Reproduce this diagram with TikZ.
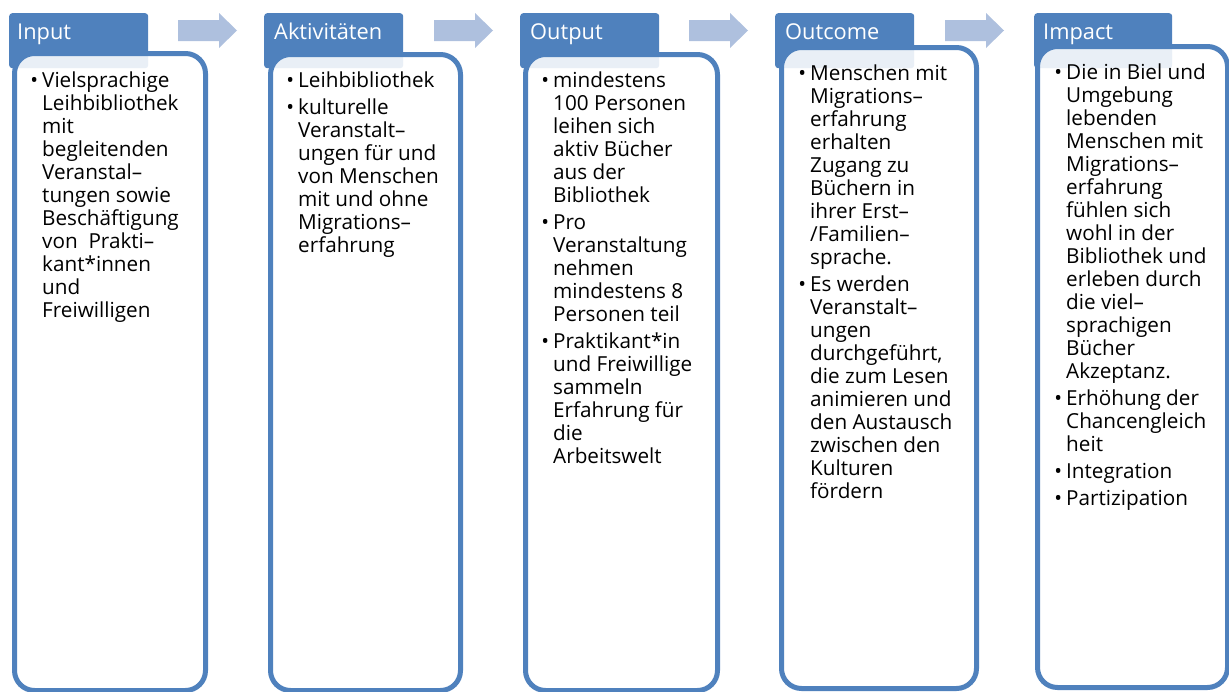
\documentclass[tikz,border=0pt]{standalone}
\usepackage{fontspec}
\setmainfont{Open Sans}
\definecolor{accent}{HTML}{4F81BD}
\definecolor{arrowc}{HTML}{AEC0DE}
\newcommand\bodyfont{\fontsize{20.7}{23}\selectfont}
\newcommand\hdrfont{\fontsize{21.8}{24}\selectfont}
\newcommand\itm{\par\noindent\llap{\textbullet\hspace{4pt}}}
\newcommand\col[1]{\parbox[t]{220pt}{\bodyfont\raggedright\setlength\parskip{4pt}#1}}
\begin{document}
\begin{tikzpicture}[x=1pt,y=-1pt,
  tabbox/.style={anchor=north west, inner sep=0, minimum height=55, fill=accent, rounded corners=3},
  panel/.style={anchor=north west, inner sep=0, draw=accent, line width=5, fill=white, fill opacity=0.88, rounded corners=20},
  hdr/.style={anchor=base west, inner sep=0, text=white, font=\hdrfont},
  body/.style={anchor=base west, inner sep=0},
  blockarrow/.style={fill=arrowc}]
\useasboundingbox (0,0) rectangle (1229,691);

% tabs
\node[tabbox, minimum width=139] (tabA) at (9,13) {};
\node[tabbox, minimum width=139] (tabB) at (264,13) {};
\node[tabbox, minimum width=139] (tabC) at (520,13) {};
\node[tabbox, minimum width=139] (tabD) at (775,13) {};
\node[tabbox, minimum width=138] (tabE) at (1034,13) {};

% panels
\node[panel, minimum width=191, minimum height=637] (boxA) at (12,51) {};
\node[panel, minimum width=190, minimum height=636] (boxB) at (268,52) {};
\node[panel, minimum width=192, minimum height=636] (boxC) at (523,52) {};
\node[panel, minimum width=195, minimum height=641] (boxD) at (779,45) {};
\node[panel, minimum width=190, minimum height=641] (boxE) at (1035,44) {};

% headers
\node[hdr] (hA) at (17,39) {Input};
\node[hdr] (hB) at (274,39) {Aktivitäten};
\node[hdr] (hC) at (530,39) {Output};
\node[hdr] (hD) at (785,39) {Outcome};
\node[hdr] (hE) at (1043,39) {Impact};

% arrows
\foreach \n/\x in {arA/178, arB/434, arC/689, arD/945}{
  \coordinate (\n) at (\x,30.5);
  \fill[blockarrow] (\n) ++(0,-10.5) -- ++(41,0) -- ++(0,-7) -- ++(18,17.5) -- ++(-18,17.5) -- ++(0,-7) -- ++(-41,0) -- cycle;
}

% texts
\node[body] (tA) at (42,87) {\col{\itm Vielsprachige\\Leihbibliothek\\mit\\begleitenden\\Veranstal–\\tungen sowie\\Beschäftigung\\von\ \ Prakti–\\kant*innen\\und\\Freiwilligen}};

\node[body] (tB) at (298,87) {\col{\itm Leihbibliothek
\itm kulturelle\\Veranstalt–\\ungen für und\\von Menschen\\mit und ohne\\Migrations–\\erfahrung}};

\node[body] (tC) at (553,87) {\col{\itm mindestens\\100 Personen\\leihen sich\\aktiv Bücher\\aus der\\Bibliothek
\itm Pro\\Veranstaltung\\nehmen\\mindestens 8\\Personen teil
\itm Praktikant*in\\und Freiwillige\\sammeln\\Erfahrung für\\die\\Arbeitswelt}};

\node[body] (tD) at (810,80) {\col{\itm Menschen mit\\Migrations–\\erfahrung\\erhalten\\Zugang zu\\Büchern in\\ihrer Erst–\\/Familien–\\sprache.
\itm Es werden\\Veranstalt–\\ungen\\durchgeführt,\\die zum Lesen\\animieren und\\den Austausch\\zwischen den\\Kulturen\\fördern}};

\node[body] (tE) at (1066,79) {\col{\itm Die in Biel und\\Umgebung\\lebenden\\Menschen mit\\Migrations–\\erfahrung\\fühlen sich\\wohl in der\\Bibliothek und\\erleben durch\\die viel–\\sprachigen\\Bücher\\Akzeptanz.
\itm Erhöhung der\\Chancengleich\\heit
\itm Integration
\itm Partizipation}};
\end{tikzpicture}
\end{document}
